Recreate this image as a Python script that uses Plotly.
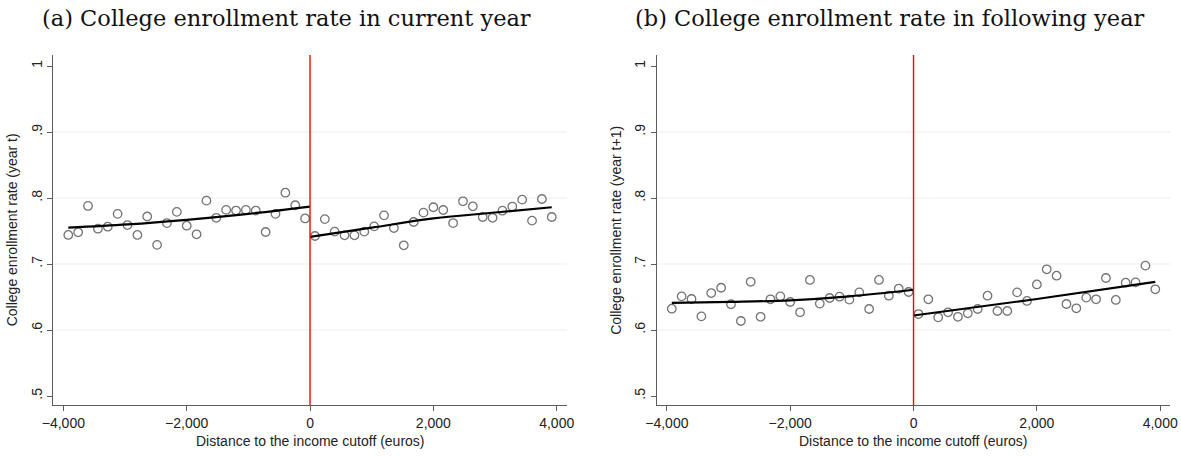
import plotly.graph_objects as go

# Bin centres (euros from the income cutoff), 160-euro bins on each side
bins_below = [-3920, -3760, -3600, -3440, -3280, -3120, -2960, -2800, -2640, -2480,
              -2320, -2160, -2000, -1840, -1680, -1520, -1360, -1200, -1040, -880,
              -720, -560, -400, -240, -80]
bins_above = [80, 240, 400, 560, 720, 880, 1040, 1200, 1360, 1520,
              1680, 1840, 2000, 2160, 2320, 2480, 2640, 2800, 2960, 3120,
              3280, 3440, 3600, 3760, 3920]

# (a) enrollment in current year, binned means
enroll_t_below = [0.744, 0.748, 0.788, 0.7535, 0.7565, 0.776, 0.759, 0.744, 0.772, 0.729,
                  0.762, 0.779, 0.758, 0.745, 0.796, 0.770, 0.782, 0.781, 0.782, 0.781,
                  0.7485, 0.776, 0.808, 0.789, 0.769]
enroll_t_above = [0.7424, 0.768, 0.749, 0.7435, 0.7435, 0.749, 0.757, 0.7737, 0.7545, 0.7283,
                  0.7636, 0.7778, 0.786, 0.7818, 0.762, 0.795, 0.7874, 0.7712, 0.770, 0.7808,
                  0.787, 0.7975, 0.7657, 0.7985, 0.7712]

# (b) enrollment in following year, binned means
enroll_t1_below = [0.6323, 0.651, 0.647, 0.6207, 0.656, 0.664, 0.639, 0.6136, 0.673, 0.620,
                   0.6465, 0.651, 0.6424, 0.6268, 0.6758, 0.640, 0.6485, 0.6505, 0.646, 0.657,
                   0.6318, 0.6758, 0.652, 0.6626, 0.6576]
enroll_t1_above = [0.6242, 0.6465, 0.6192, 0.6268, 0.620, 0.6253, 0.6318, 0.652, 0.6288, 0.6288,
                   0.657, 0.644, 0.669, 0.692, 0.6823, 0.6394, 0.6329, 0.649, 0.6465, 0.6788,
                   0.6455, 0.6717, 0.6722, 0.6975, 0.6617]

# Fitted values on each side of the cutoff
fit_t_below_x = [-3920, -2960, -2000, -1000, 0]
fit_t_below_y = [0.755, 0.760, 0.767, 0.776, 0.787]
fit_t_above_x = [0, 1000, 2000, 3000, 3920]
fit_t_above_y = [0.741, 0.755, 0.769, 0.778, 0.786]
fit_t1_below_x = [-3920, -2960, -2000, -1040, 0]
fit_t1_below_y = [0.641, 0.6425, 0.645, 0.651, 0.661]
fit_t1_above_x = [0, 2000, 3920]
fit_t1_above_y = [0.622, 0.647, 0.673]

x_tick_vals = [-4000, -2000, 0, 2000, 4000]
x_tick_text = ["\u22124,000", "\u22122,000", "0", "2,000", "4,000"]
y_tick_vals = [0.5, 0.6, 0.7, 0.8, 0.9, 1.0]
y_tick_text = [".5", ".6", ".7", ".8", ".9", "1"]
grid_levels = [0.6, 0.7, 0.8, 0.9]

panels = [
    dict(title="(a) College enrollment rate in current year",
         ytitle="College enrollment rate (year t)",
         below=enroll_t_below, above=enroll_t_above,
         fits=[(fit_t_below_x, fit_t_below_y), (fit_t_above_x, fit_t_above_y)]),
    dict(title="(b) College enrollment rate in following year",
         ytitle="College enrollment rate (year t+1)",
         below=enroll_t1_below, above=enroll_t1_above,
         fits=[(fit_t1_below_x, fit_t1_below_y), (fit_t1_above_x, fit_t1_above_y)]),
]

W, H = 1181, 456
# plot-area pixel boxes (left, right) and shared top/bottom
boxes = [(53.3, 566.7), (656.8, 1170.2)]
top_px, bot_px = 55, 405

AXIS_COL = "#5c5c5c"
MARK_COL = "#747474"
GRID_COL = "#e8f0f1"
SANS = "Liberation Sans, Arial, sans-serif"
SERIF = "DejaVu Serif, serif"

fig = go.Figure()
annotations = []
shapes = []

for i, p in enumerate(panels):
    xa = "x" if i == 0 else "x2"
    ya = "y" if i == 0 else "y2"
    xkey = "xaxis" if i == 0 else "xaxis2"
    ykey = "yaxis" if i == 0 else "yaxis2"
    l, r = boxes[i]

    for g in grid_levels:
        shapes.append(dict(type="line", xref=f"{xa} domain", yref=ya, x0=0, x1=1, y0=g, y1=g,
                           line=dict(color=GRID_COL, width=1.2), layer="below"))
    shapes.append(dict(type="line", xref=xa, yref=f"{ya} domain", x0=0, x1=0, y0=0, y1=1,
                       line=dict(color="#ff0000", width=1.4), layer="above"))

    fig.add_trace(go.Scatter(x=bins_below + bins_above, y=p["below"] + p["above"],
                             mode="markers", xaxis=xa, yaxis=ya, showlegend=False,
                             marker=dict(symbol="circle-open", size=8.5, color=MARK_COL,
                                         line=dict(width=1.3, color=MARK_COL))))
    for fx, fy in p["fits"]:
        fig.add_trace(go.Scatter(x=fx, y=fy, mode="lines", xaxis=xa, yaxis=ya, showlegend=False,
                                 line=dict(color="black", width=2.2, shape="spline")))

    fig.layout[xkey] = dict(domain=[l / W, r / W], range=[-4163, 4162], anchor=ya,
                            automargin=False,
                            tickvals=x_tick_vals, ticktext=x_tick_text, ticks="outside",
                            ticklen=5, tickwidth=1.3, tickcolor=AXIS_COL, showgrid=False,
                            zeroline=False, showline=True, linecolor=AXIS_COL, linewidth=1.3,
                            tickfont=dict(family=SANS, size=14, color="#222"))
    fig.layout[ykey] = dict(domain=[(H - bot_px) / H, (H - top_px) / H],
                            range=[0.48636, 1.01667], anchor=xa, automargin=False,
                            tickvals=y_tick_vals, ticktext=y_tick_text, ticks="outside",
                            ticklen=5, tickwidth=1.3, tickcolor=AXIS_COL, showgrid=False,
                            zeroline=False, showline=True, linecolor=AXIS_COL, linewidth=1.3,
                            tickangle=-90,
                            tickfont=dict(family=SANS, size=14, color="#222"))

    mid = (l + (r - l) * (4163 / 8325)) / W
    annotations.append(dict(text="Distance to the income cutoff (euros)", xref="paper", yref="paper",
                            x=mid, y=(H - 441) / H, showarrow=False, xanchor="center", yanchor="middle",
                            font=dict(family=SANS, size=14, color="#222")))
    annotations.append(dict(text=p["ytitle"], xref="paper", yref="paper", textangle=-90,
                            x=(l - 41) / W, y=(H - 230) / H, showarrow=False,
                            xanchor="center", yanchor="middle",
                            font=dict(family=SANS, size=14, color="#222")))
    annotations.append(dict(text=p["title"], xref="paper", yref="paper",
                            x=(l + 233) / W, y=(H - 18) / H, showarrow=False,
                            xanchor="center", yanchor="middle",
                            font=dict(family=SERIF, size=22.5, color="#111")))

fig.update_layout(width=W, height=H, margin=dict(l=0, r=0, t=0, b=0, autoexpand=False),
                  paper_bgcolor="white", plot_bgcolor="white",
                  annotations=annotations, shapes=shapes)

fig.write_html("out.html")
